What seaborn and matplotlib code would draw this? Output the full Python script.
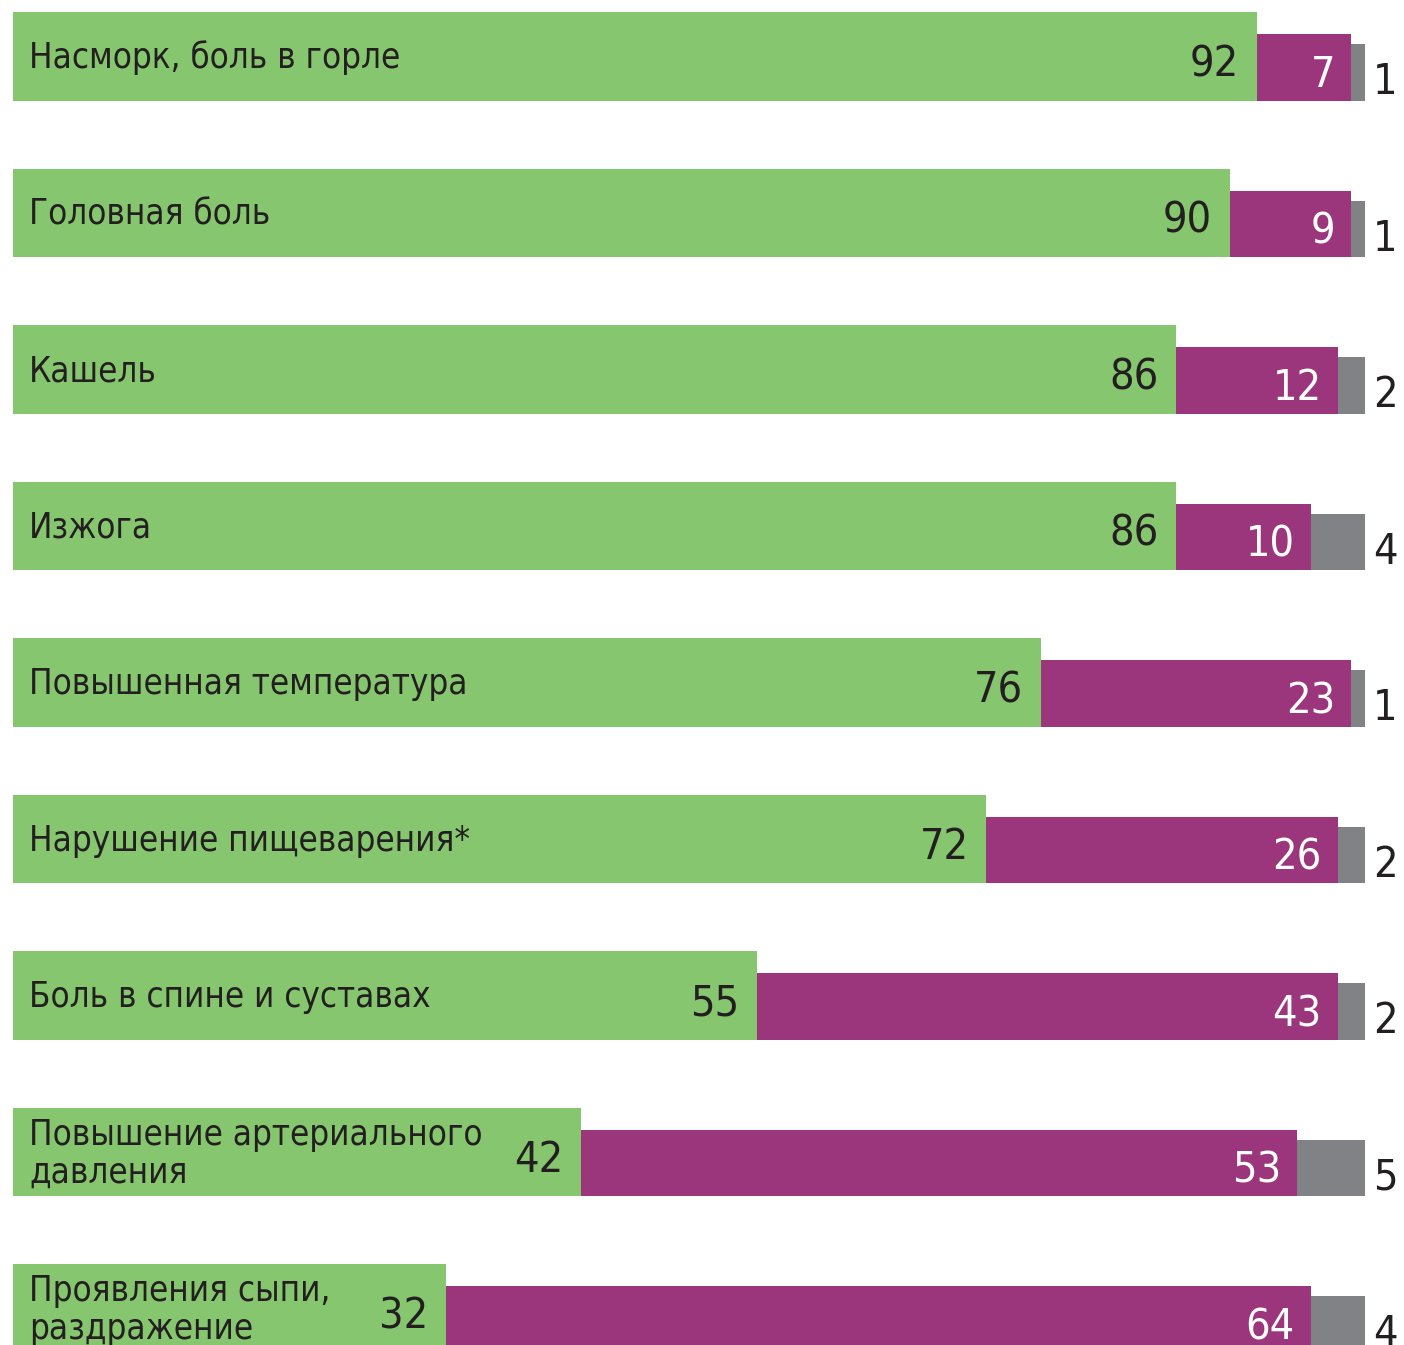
import pandas as pd
import seaborn as sns
import matplotlib.pyplot as plt
from matplotlib import font_manager

symptoms = ['Насморк, боль в горле', 'Головная боль', 'Кашель', 'Изжога',
            'Повышенная температура', 'Нарушение пищеварения*',
            'Боль в спине и суставах', 'Повышение артериального\nдавления',
            'Проявления сыпи,\nраздражение']
green_vals = [92, 90, 86, 86, 76, 72, 55, 42, 32]
purple_vals = [7, 9, 12, 10, 23, 26, 43, 53, 64]
gray_vals = [1, 1, 2, 4, 1, 2, 2, 5, 4]

GREEN = '#86C66E'
PURPLE = '#9C367C'
GRAY = '#818285'
DARK = '#231F20'

df = pd.DataFrame({'symptom': symptoms, 'green': green_vals,
                   'purple': purple_vals, 'gray': gray_vals})
df['to_purple'] = df['green'] + df['purple']
df['to_gray'] = df['to_purple'] + df['gray']

sns.set_theme(style='white')
plt.rcParams['font.family'] = ['DejaVu Sans']

# look for a narrow/condensed regular face, like the original's condensed type
narrow = [f for f in font_manager.fontManager.ttflist
          if (f.stretch in ('condensed', 'semi-condensed', 'extra-condensed')
              or 'Narrow' in f.name or 'Condensed' in f.name)
          and f.style == 'normal' and f.weight in (400, 'normal', 'regular')]
if narrow:
    fp = dict(fontproperties=font_manager.FontProperties(fname=narrow[0].fname))
else:
    fp = dict(family='DejaVu Sans')

fig = plt.figure(figsize=(14.04, 13.45), dpi=100)
ax = fig.add_axes([0, 0, 1, 1])

# segments overlap: full length first, all bars share the same bottom line
bottom = 0.2835
layers = [('to_gray', GRAY, 0.363), ('to_purple', PURPLE, 0.427), ('green', GREEN, 0.567)]
for col, color, h in layers:
    n0 = len(ax.patches)
    sns.barplot(data=df, x=col, y='symptom', color=color, width=h, saturation=1,
                errorbar=None, linewidth=0, orient='h', ax=ax)
    for i, p in enumerate(ax.patches[n0:]):
        p.set_y(i + bottom - h)

lab_size = 25
num_size = 31
for i, row in df.iterrows():
    t = ax.text(1.18, i + 0.01, row['symptom'], ha='left', va='center',
                color=DARK, linespacing=1.15, **fp)
    t.set_fontsize(lab_size)
    t = ax.text(row['green'] - 1.3, i + 0.125, str(row['green']), ha='right',
                va='baseline', color=DARK, **fp)
    t.set_fontsize(num_size)
    t = ax.text(row['to_purple'] - 1.2, i + 0.195, str(row['purple']), ha='right',
                va='baseline', color='white', **fp)
    t.set_fontsize(num_size)
    t = ax.text(row['to_gray'] + 0.6, i + 0.24, str(row['gray']), ha='left',
                va='baseline', color=DARK, **fp)
    t.set_fontsize(num_size)

ax.set_xlim(-13 / 13.52, (1404 - 13) / 13.52)
ax.set_ylim(8.233, -0.361)
ax.axis('off')

fig.savefig('out.png', dpi=100)
